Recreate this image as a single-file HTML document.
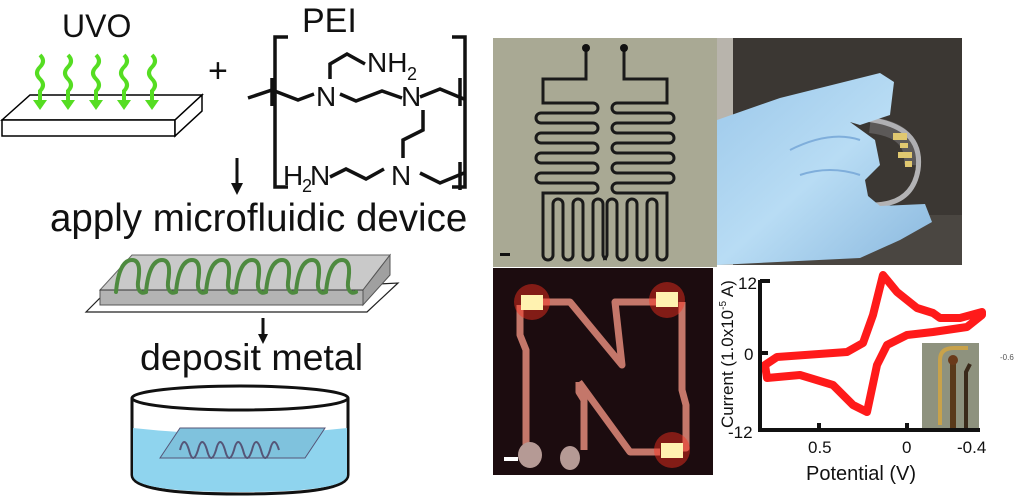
<!DOCTYPE html>
<html><head><style>
body{margin:0;background:#fff;width:1024px;height:499px;overflow:hidden;position:relative;font-family:"Liberation Sans",sans-serif}
.t{position:absolute;color:#111;white-space:nowrap;line-height:normal}
</style></head><body>
<div class="t" style="left:62px;top:8px;font-size:32px">UVO</div>
<div class="t" style="left:208px;top:52px;font-size:34px">+</div>
<div class="t" style="left:302px;top:2px;font-size:34px">PEI</div>
<div class="t" style="left:50px;top:197px;font-size:38.5px">apply microfluidic device</div>
<div class="t" style="left:140px;top:336px;font-size:37.5px">deposit metal</div>
<svg width="1024" height="499" style="position:absolute;left:0;top:0">
<defs>
<linearGradient id="glove" x1="0" y1="0" x2="1" y2="1"><stop offset="0" stop-color="#9cc8ea"/><stop offset="0.5" stop-color="#b8dcf4"/><stop offset="1" stop-color="#8ab8de"/></linearGradient>
<path id="lp" d="M0,292 C2,270 8,260 16,260 C24,260 24,270 22,282 C21,292 26,294 30,292" fill="none" stroke="#4e8a3f" stroke-width="4" stroke-linecap="round"/>
<path id="half" d="M586,50 V79 H543 V103 H593 a5,5 0 0 1 0,10 H541 a5,5 0 0 0 0,10 H593 a5,5 0 0 1 0,10 H541 a5,5 0 0 0 0,10 H593 a5,5 0 0 1 0,10 H541 a5,5 0 0 0 0,10 H593 a5,5 0 0 1 0,10 H541 a5,5 0 0 0 0,10 H593 a5,5 0 0 1 0,10 H543 V255 a5,5 0 0 0 10,0 V204 a5,5 0 0 1 10,0 V255 a5,5 0 0 0 10,0 V204 a5,5 0 0 1 10,0 V255 a5,5 0 0 0 10,0 V204 a5,5 0 0 1 10,0 V255 a5,5 0 0 0 4,4" fill="none" stroke="#1a1a1a" stroke-width="3"/>
</defs>
<!-- UVO slab -->
<polygon points="2,120 30,95 202,95 175,120" fill="#fff" stroke="#000" stroke-width="1.5"/>
<polygon points="2,120 175,120 175,136 2,136" fill="#fff" stroke="#000" stroke-width="1.5"/>
<polygon points="175,120 202,95 202,111 175,136" fill="#fff" stroke="#000" stroke-width="1.5"/>
<g stroke="#55dd22" stroke-width="4" fill="none">
<path d="M40,55 q6,6 0,12 q-6,6 0,12 q6,6 0,12 l0,12"/><path d="M68,55 q6,6 0,12 q-6,6 0,12 q6,6 0,12 l0,12"/>
<path d="M96,55 q6,6 0,12 q-6,6 0,12 q6,6 0,12 l0,12"/><path d="M124,55 q6,6 0,12 q-6,6 0,12 q6,6 0,12 l0,12"/>
<path d="M152,55 q6,6 0,12 q-6,6 0,12 q6,6 0,12 l0,12"/>
</g>
<g fill="#55dd22"><polygon points="33,100 47,100 40,110"/><polygon points="61,100 75,100 68,110"/><polygon points="89,100 103,100 96,110"/><polygon points="117,100 131,100 124,110"/><polygon points="145,100 159,100 152,110"/></g>
<!-- PEI structure -->
<g stroke="#111" stroke-width="3.5" fill="none">
<path d="M288,37 h-13 v150 h13"/><path d="M452,37 h13 v150 h-13"/>
<path d="M248,98 l24,-8 l26,10 l16,-6"/><path d="M272,78 v28"/>
<path d="M340,94 l16,7 l26,-10 l20,7"/>
<path d="M330,79 v-15 l17,-10 l18,10"/>
<path d="M420,97 l20,-8 l24,10"/><path d="M460,78 v28"/>
<path d="M423,110 v20 l-20,10 v18"/>
<path d="M330,177 l16,-8 l20,10 l18,-10"/><path d="M420,173 l20,10 l24,-10"/><path d="M460,162 v28"/>
</g>
<g font-family="Liberation Sans" font-size="28" fill="#111">
<text x="316" y="106">N</text><text x="401" y="106">N</text><text x="367" y="72">NH</text><text x="407" y="80" font-size="18">2</text>
<text x="283" y="185">H</text><text x="302" y="192" font-size="18">2</text><text x="310" y="185">N</text><text x="391" y="185">N</text>
</g>
<!-- arrows -->
<g stroke="#111" stroke-width="3"><line x1="237" y1="158" x2="237" y2="185"/><line x1="263" y1="318" x2="263" y2="336"/></g>
<polygon points="231,183 243,183 237,195" fill="#111"/><polygon points="258,334 268,334 263,344" fill="#111"/>
<!-- device -->
<polygon points="86,312 100,298 398,283 367,312" fill="#fff" stroke="#222" stroke-width="1.2"/>
<polygon points="100,290 132,255 390,255 363,290" fill="#c9c9c9" stroke="#666" stroke-width="1"/>
<polygon points="100,290 363,290 363,305 100,305" fill="#b3b3b3" stroke="#555" stroke-width="1"/>
<polygon points="363,290 390,255 390,275 363,305" fill="#a0a0a0" stroke="#555" stroke-width="1"/>
<line x1="100" y1="290" x2="363" y2="290" stroke="#333" stroke-width="1"/>
<g>
<use href="#lp" x="116"/><use href="#lp" x="146"/><use href="#lp" x="176"/><use href="#lp" x="206"/><use href="#lp" x="236"/><use href="#lp" x="266"/>
<use href="#lp" x="296"/><use href="#lp" x="326"/>
</g>
<!-- beaker -->
<path d="M132,398 V475 Q132,494 240,494 Q348,494 348,475 V398" fill="#fff" stroke="#111" stroke-width="3"/>
<path d="M133,428 V475 Q133,492 240,492 Q347,492 347,475 V428 Q240,440 133,428 Z" fill="#8fd4ee"/>
<ellipse cx="240" cy="398" rx="108" ry="12" fill="#fff" stroke="#111" stroke-width="3"/>
<polygon points="160,458 180,428 325,428 305,458" fill="#7fc2dd" stroke="#557" stroke-width="1"/>
<path d="M180,450 q4,-16 9,0 q4,16 9,0 q4,-16 9,0 q4,16 9,0 q4,-16 9,0 q4,16 9,0 q4,-16 9,0 q4,16 9,0 q4,-16 9,0 q4,16 9,0 q4,-16 9,0" stroke="#557" stroke-width="2" fill="none"/>
<!-- photo1 -->
<rect x="493" y="38" width="224" height="229" fill="#a9a994"/>
<use href="#half"/>
<use href="#half" transform="translate(1210,0) scale(-1,1)"/>
<circle cx="586" cy="48" r="4" fill="#111"/><circle cx="624" cy="48" r="4" fill="#111"/>
<rect x="500" y="253" width="10" height="3" fill="#111"/>
<!-- photo2 -->
<rect x="717" y="38" width="245" height="227" fill="#3b3733"/>
<rect x="717" y="38" width="16" height="227" fill="#b8b4ac"/>
<rect x="733" y="215" width="229" height="50" fill="#4a4641"/>
<path d="M850,118 Q925,120 918,170 Q912,205 872,205" stroke="#c9c9cc" stroke-width="5" fill="none" opacity="0.85"/>
<path d="M870,125 Q915,130 912,165" stroke="#a8a8b0" stroke-width="16" fill="none" opacity="0.3"/>
<g fill="#e0c870"><rect x="893" y="133" width="14" height="7"/><rect x="900" y="143" width="8" height="5"/><rect x="898" y="152" width="14" height="6"/><rect x="905" y="161" width="7" height="6"/></g>
<path d="M717,120 L780,98 L880,73 L894,82 L890,115 L860,125 L850,122 L875,140 L880,165 L865,180 L868,196 L880,206 L925,204 L932,222 L900,240 L860,258 L717,265 Z" fill="url(#glove)"/>
<path d="M790,150 q40,-20 70,-10 M800,175 q30,-10 60,0" stroke="#7faedb" stroke-width="2" fill="none"/>
<!-- photo3 -->
<rect x="493" y="268" width="220" height="207" fill="#1c0c0f"/>
<g stroke="#c4776a" stroke-width="7" fill="none" stroke-linejoin="round">
<path d="M530,302 H570 L622,365 L615,302 H660"/>
<path d="M520,305 V335 L526,350 V445"/>
<path d="M682,302 V390 L686,405 V448 H668"/>
<path d="M579,382 L630,452 H660"/>
<path d="M579,382 V392 L584,400 V450"/>
</g>
<g fill="#ff3020" opacity="0.45"><circle cx="532" cy="302" r="18"/><circle cx="667" cy="300" r="18"/><circle cx="672" cy="450" r="18"/></g>
<g fill="#fff2b0"><rect x="521" y="295" width="22" height="15"/><rect x="656" y="292" width="22" height="15"/><rect x="661" y="443" width="22" height="15"/></g>
<rect x="504" y="457" width="14" height="4" fill="#fff"/>
<ellipse cx="530" cy="455" rx="12" ry="13" fill="#b59a95"/><ellipse cx="570" cy="458" rx="10" ry="12" fill="#b59a95"/>
<!-- graph -->
<path d="M765,365 L777,357 L847,352 L863,343 L873,315 L883,275 L897,292 L917,308 L933,313 L940,318 L960,318 L982,312 L982,315 L967,327 L933,332 L907,335 L887,345 L877,365 L867,412 L853,405 L833,385 L800,375 L767,378 Z" fill="none" stroke="#ff1a1a" stroke-width="8" stroke-linejoin="round"/>
<rect x="922" y="343" width="57" height="87" fill="#8e927e"/>
<path d="M940,425 V360 q0,-12 14,-12 h14" stroke="#c8a24a" stroke-width="4" fill="none"/>
<rect x="950" y="360" width="6" height="68" fill="#5a3a1a"/><circle cx="953" cy="360" r="5" fill="#6a3a1a"/>
<path d="M966,428 V372 l4,-8" stroke="#3a2a1a" stroke-width="4" fill="none"/>
<g stroke="#111" stroke-width="4" fill="none"><path d="M760,280 V430 H980"/><line x1="760" y1="281" x2="770" y2="281"/><line x1="760" y1="353" x2="768" y2="353"/><line x1="819" y1="430" x2="819" y2="423"/><line x1="907" y1="430" x2="907" y2="423"/></g>
<g font-family="Liberation Sans" fill="#111" font-size="17">
<text x="738" y="289">12</text><text x="744" y="360">0</text><text x="728" y="438">-12</text>
<text x="808" y="453">0.5</text><text x="902" y="453">0</text><text x="957" y="453">-0.4</text>
<text x="806" y="480" font-size="20">Potential (V)</text>
<text x="1000" y="360" font-size="8" fill="#555">-0.6</text>
<text transform="translate(733,428) rotate(-90)" font-size="17">Current (1.0x10<tspan font-size="10" dy="-7">-5</tspan><tspan dy="7"> A)</tspan></text>
</g>
</svg>
</body></html>
